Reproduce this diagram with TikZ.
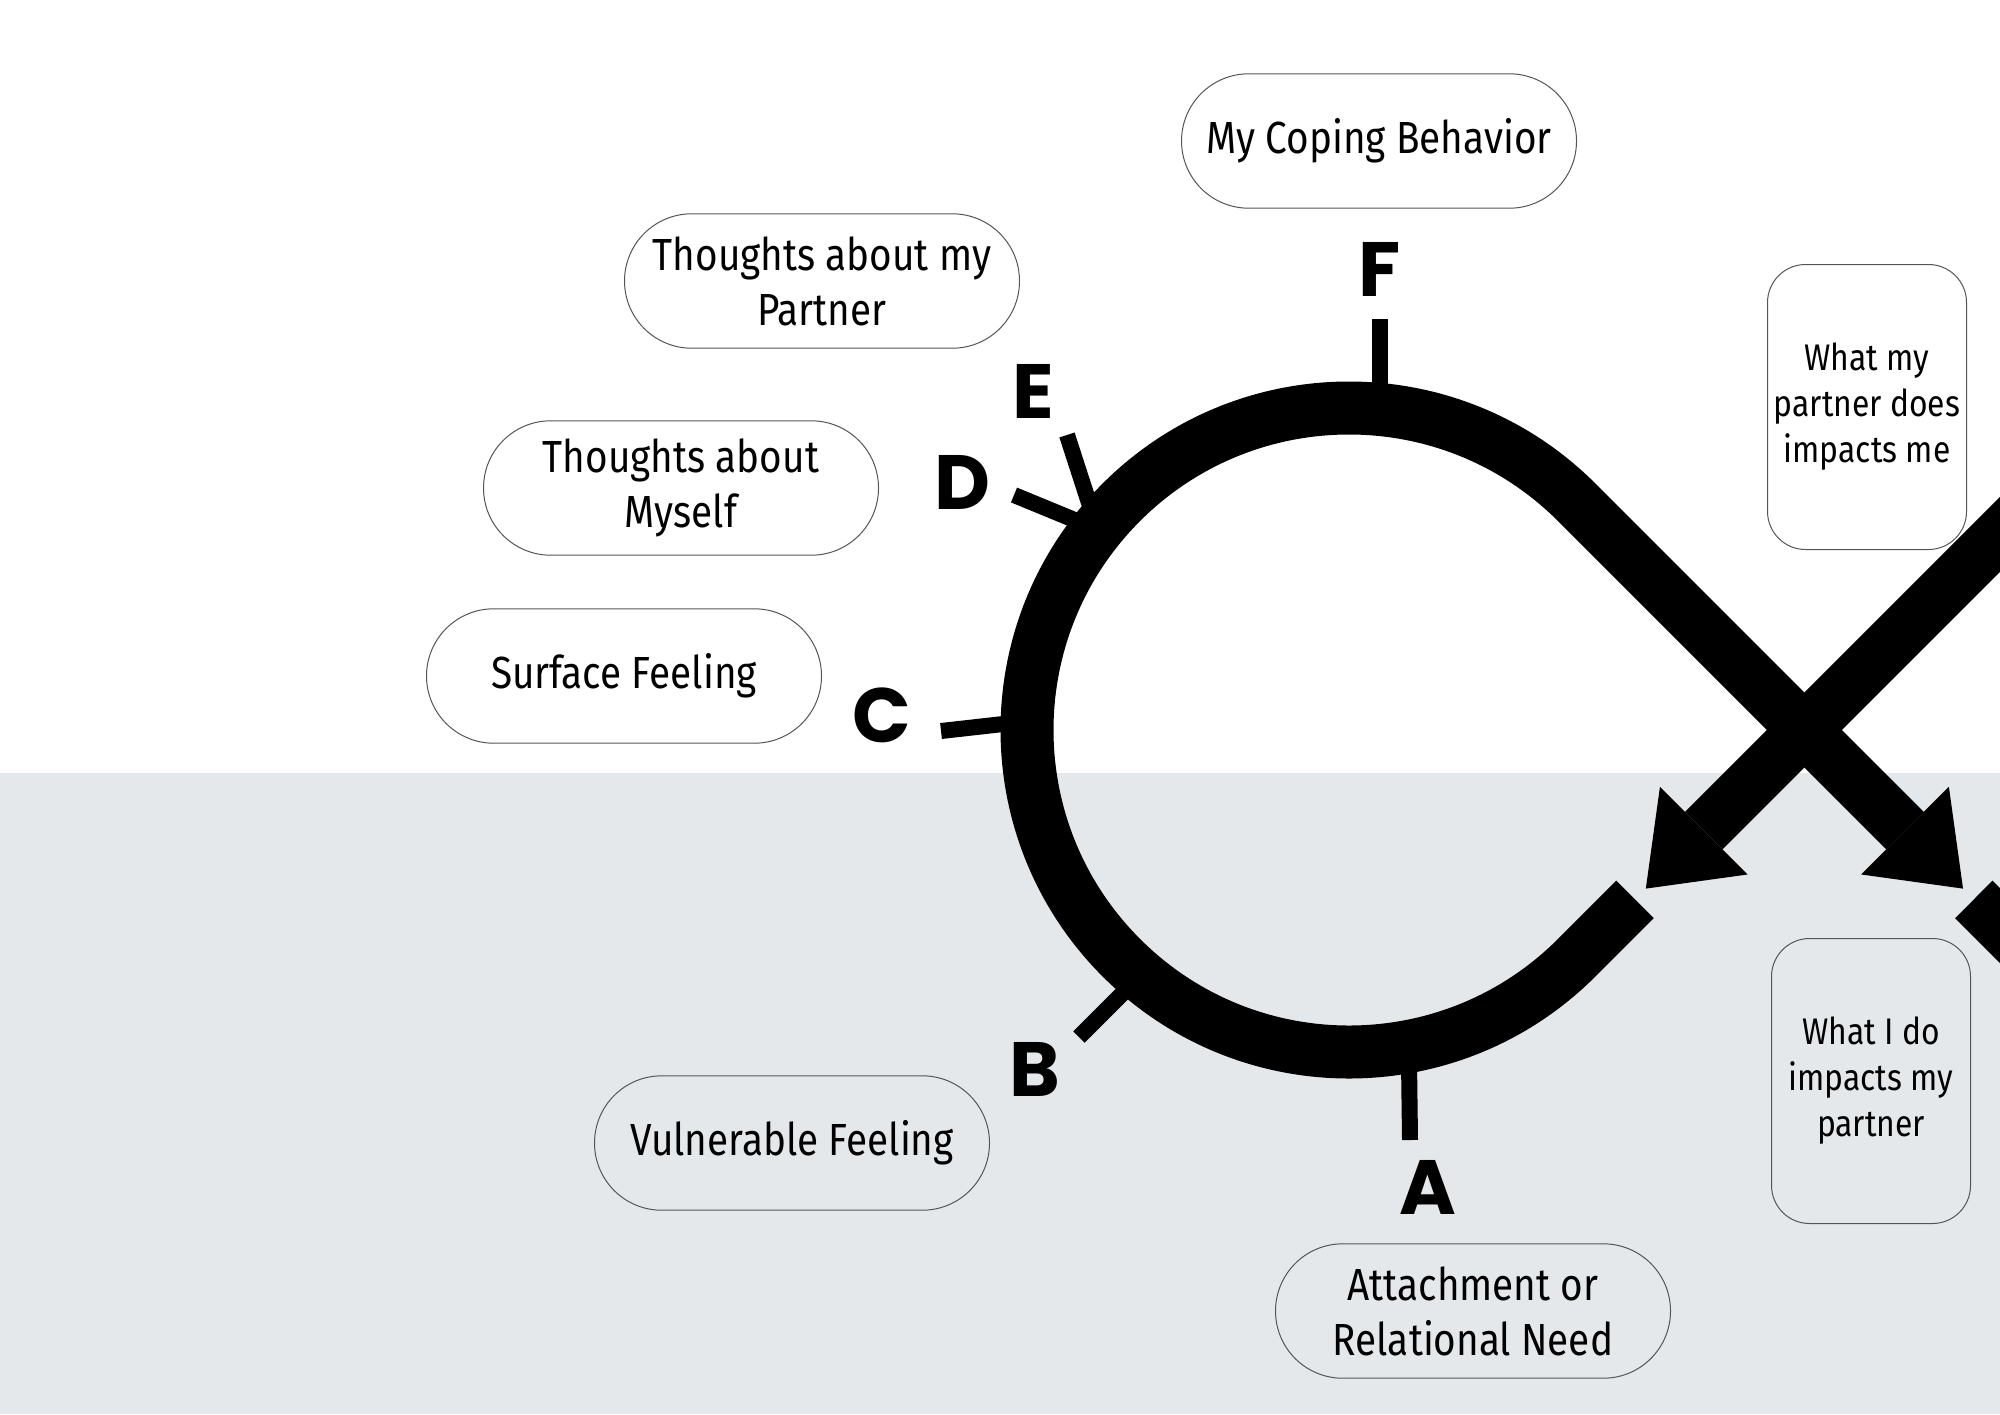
\documentclass[tikz,border=0pt]{standalone}
\usepackage{fontspec}
\usepackage{xcolor}
\usetikzlibrary{arrows.meta, calc}
\setmainfont{Fira Sans}[FakeStretch=0.86]
\newfontfamily\letterfont{Poppins}
\definecolor{floorgray}{HTML}{E4E8EB}
\definecolor{pillline}{HTML}{555555}

\begin{document}
\begin{tikzpicture}[
  x=0.5pt, y=-0.5pt,
  pill/.style={draw=pillline, line width=0.5pt, rounded corners=33.6pt,
    minimum width=197.5pt, minimum height=67.2pt, inner sep=0pt, align=center,
    font=\fontsize{22.5}{27.5}\selectfont},
  card/.style={draw=pillline, line width=0.5pt, rounded corners=19pt,
    minimum width=99.5pt, minimum height=142.5pt, inner sep=0pt, align=center,
    font=\fontsize{18.5}{23}\selectfont},
  letter/.style={font=\fontsize{38.5}{40}\letterfont\bfseries, inner sep=0pt},
  tick/.style={line width=8pt},
  band/.style={line width=26.5pt},
  head/.style={-{Triangle[length=41pt, width=62pt, line width=0pt]}}
]
\useasboundingbox (0,0) rectangle (2000,1414);
\clip (0,0) rectangle (2000,1414);

% ---- Background ----
\fill[white] (0,0) rectangle (2000,773);
\fill[floorgray] (0,773) rectangle (2000,1414);

% ---- Loop centres ----
\coordinate (c1) at (1349,730);
\coordinate (c2) at (2259.8,730);
\coordinate (tipR) at (1963,888.6);
\coordinate (tipL) at (1645.8,888.6);

% ---- Ticks ----
\draw[tick] (1380,319) -- (1380,395);
\draw[tick] (1067,435) -- (1090,506);
\draw[tick] (1014,495) -- (1082,523);
\draw[tick] (941,731) -- (1012,723);
\draw[tick] (1079,1037) -- (1128,988);
\draw[tick] (1410,1140) -- (1409,1062);

% ---- Figure eight ----
\draw[band, head] (1635,899.4) -- ($(c1)+(45:322)$)
  arc[start angle=45, end angle=315, radius=322] -- (tipR);
\draw[band, head] (1973.8,899.4) -- ($(c2)+(135:322)$)
  arc[start angle=135, end angle=-135, radius=322] -- (tipL);

% ---- Letters ----
\node[letter] (la) at (1428,1187) {A};
\node[letter] (lb) at (1035,1069) {B};
\node[letter] (lc) at (882,715) {C};
\node[letter] (ld) at (962,482) {D};
\node[letter] (le) at (1033,391) {E};
\node[letter] (lf) at (1380,269) {F};

% ---- Pills ----
\node[pill] (cope) at (1379,141) {My Coping Behavior};
\node[pill] (partner) at (822,281) {Thoughts about my\\Partner};
\node[pill] (myself) at (681,488) {Thoughts about\\Myself};
\node[pill] (surface) at (624,676) {Surface Feeling};
\node[pill] (vulnerable) at (792,1143) {Vulnerable Feeling};
\node[pill] (need) at (1473,1311) {Attachment or\\Relational Need};

% ---- Cards ----
\node[card] (theydo) at (1867,407) {What my\\partner does\\impacts me};
\node[card] (ido) at (1871,1081) {What I do\\impacts my\\partner};

\end{tikzpicture}
\end{document}
